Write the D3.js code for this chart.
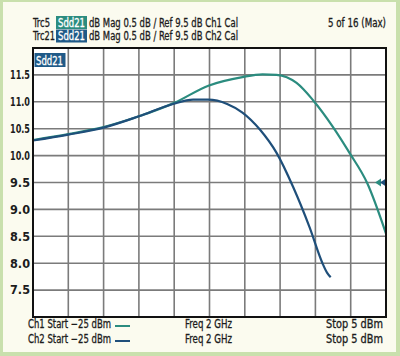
<!DOCTYPE html>
<html>
<head>
<meta charset="utf-8">
<script src="https://cdn.jsdelivr.net/npm/d3@7"></script>
<style>
  html, body { margin: 0; padding: 0; background: #c9e0ad; }
  svg { display: block; }
  text { font-family: "Liberation Sans Narrow", "DejaVu Sans Condensed", "Roboto", sans-serif; fill: #1c1c1c; }
</style>
</head>
<body>
<div id="chart"></div>
<script>
// power sweep, dBm
const ch1Power = [-25, -22, -19, -16, -13, -10.1, -7.2, -5.5, -4.3, -2.6, -1.2, 0.5, 1.9, 3.4, 5];
const ch1Gain  = [10.29, 10.40, 10.53, 10.73, 10.98, 11.30, 11.46, 11.51, 11.50, 11.35, 11.03, 10.53, 10.05, 9.49, 8.55];
const ch2Power = [-25, -22, -19, -16, -13.1, -11.4, -10.1, -8.5, -7.2, -5.7, -4.3, -2.9, -1.5, -0.4, 0.0, 0.3];
const ch2Gain  = [10.28, 10.39, 10.52, 10.73, 10.96, 11.04, 11.04, 10.96, 10.80, 10.48, 10.05, 9.42, 8.67, 8.0, 7.82, 7.74];
const yTicks = [7.5, 8.0, 8.5, 9.0, 9.5, 10.0, 10.5, 11.0, 11.5];
const refLevel = 9.5;

const headerLines = [
    { trc: "Trc5", tag: "Sdd21", rest: "dB Mag 0.5 dB / Ref 9.5 dB Ch1 Cal" },
    { trc: "Trc21", tag: "Sdd21", rest: "dB Mag 0.5 dB / Ref 9.5 dB Ch2 Cal" }
];
const footerLines = [
    { left: "Ch1 Start \u221225 dBm", mid: "Freq 2 GHz", right: "Stop 5 dBm" },
    { left: "Ch2 Start \u221225 dBm", mid: "Freq 2 GHz", right: "Stop 5 dBm" }
];

const ch1Color = "#2b8c7f";
const ch2Color = "#1f4f7a";
const tagBlue = "#1f5a88";

const W = 400, H = 356;
const plot = { left: 33, right: 386, top: 48, bottom: 317 };

const svg = d3.select("#chart").append("svg")
    .attr("width", W)
    .attr("height", H);

// panel
svg.append("rect")
    .attr("x", 3).attr("y", 2)
    .attr("width", W - 7).attr("height", H - 6)
    .attr("fill", "#fbfbef");

const x = d3.scaleLinear().domain([-25, 5]).range([plot.left, plot.right]);
const y = d3.scaleLinear().domain([7, 12]).range([plot.bottom, plot.top]);

svg.append("rect")
    .attr("x", plot.left).attr("y", plot.top)
    .attr("width", plot.right - plot.left).attr("height", plot.bottom - plot.top)
    .attr("fill", "#ffffff");

// grid
const grid = svg.append("g").attr("stroke", "#7b7b7b").attr("stroke-width", 1.6);
grid.selectAll(".vg")
    .data(d3.range(-22, 5, 3))
    .enter().append("line")
    .attr("x1", d => x(d)).attr("x2", d => x(d))
    .attr("y1", plot.top).attr("y2", plot.bottom);
grid.selectAll(".hg")
    .data(yTicks)
    .enter().append("line")
    .attr("y1", d => y(d)).attr("y2", d => y(d))
    .attr("x1", plot.left).attr("x2", plot.right);

// y axis labels
const yAxis = svg.append("g")
    .attr("transform", `translate(${plot.left},0)`)
    .call(d3.axisLeft(y).tickValues(yTicks).tickFormat(d3.format(".1f")).tickSize(0).tickPadding(3));
yAxis.select(".domain").remove();
yAxis.selectAll("text")
    .style("font-size", "12px")
    .style("font-weight", "bold")
    .attr("textLength", 20)
    .attr("lengthAdjust", "spacingAndGlyphs")
    .attr("fill", "#1c1c1c");

// curves
const line = d3.line().curve(d3.curveMonotoneX);
svg.append("clipPath").attr("id", "plotClip")
    .append("rect")
    .attr("x", plot.left).attr("y", plot.top)
    .attr("width", plot.right - plot.left).attr("height", plot.bottom - plot.top);

svg.append("path")
    .datum(d3.zip(ch1Power, ch1Gain))
    .attr("clip-path", "url(#plotClip)")
    .attr("fill", "none")
    .attr("stroke", ch1Color)
    .attr("stroke-width", 2.2)
    .attr("d", line.x(d => x(d[0])).y(d => y(d[1])));

svg.append("path")
    .datum(d3.zip(ch2Power, ch2Gain))
    .attr("clip-path", "url(#plotClip)")
    .attr("fill", "none")
    .attr("stroke", ch2Color)
    .attr("stroke-width", 2.2)
    .attr("d", line.x(d => x(d[0])).y(d => y(d[1])));

// reference level markers
const ry = y(refLevel);
[[ch1Color, 0], [ch2Color, 5]].forEach(([c, dx]) => {
    svg.append("path")
        .attr("d", `M${plot.right - 11 + dx},${ry} l6,-4 l0,8 z`)
        .attr("fill", c);
});

// plot border
svg.append("rect")
    .attr("x", plot.left).attr("y", plot.top)
    .attr("width", plot.right - plot.left).attr("height", plot.bottom - plot.top)
    .attr("fill", "none")
    .attr("stroke", "#111")
    .attr("stroke-width", 2);

// fitted text helper: widths
function label(tx, ty, str, len, color) {
    return svg.append("text")
        .attr("x", tx).attr("y", ty)
        .attr("textLength", len)
        .attr("lengthAdjust", "spacingAndGlyphs")
        .style("font-size", "11.5px")
        .style("fill", color || "#1c1c1c")
        .style("stroke", color || "#1c1c1c")
        .style("stroke-width", 0.3)
        .text(str);
}

// Sdd21 label in plot
svg.append("rect")
    .attr("x", plot.left + 1.5).attr("y", 53)
    .attr("width", 31).attr("height", 14)
    .attr("fill", tagBlue);
label(plot.left + 3, 64.5, "Sdd21", 27, "#ffffff");

// header
const tagColors = [ch1Color, tagBlue];
headerLines.forEach((h, i) => {
    const by = 26.5 + i * 13.5;
    label(33, by, h.trc, i === 0 ? 17 : 22);
    svg.append("rect")
        .attr("x", 56).attr("y", by - 10.5)
        .attr("width", 31).attr("height", 13)
        .attr("fill", tagColors[i]);
    label(58, by, h.tag, 27, "#ffffff");
    label(89, by, h.rest, 149);
});
label(386 - 58, 26.5, "5 of 16 (Max)", 58);

// footer
const legendColors = [ch1Color, ch2Color];
footerLines.forEach((f, i) => {
    const by = 328 + i * 15;
    label(28, by, f.left, 83);
    svg.append("line")
        .attr("x1", 115).attr("x2", 130)
        .attr("y1", by - 2).attr("y2", by - 2)
        .attr("stroke", legendColors[i]).attr("stroke-width", 2);
    label(185, by, f.mid, 47);
    label(383 - 57, by, f.right, 57);
});
</script>
</body>
</html>
